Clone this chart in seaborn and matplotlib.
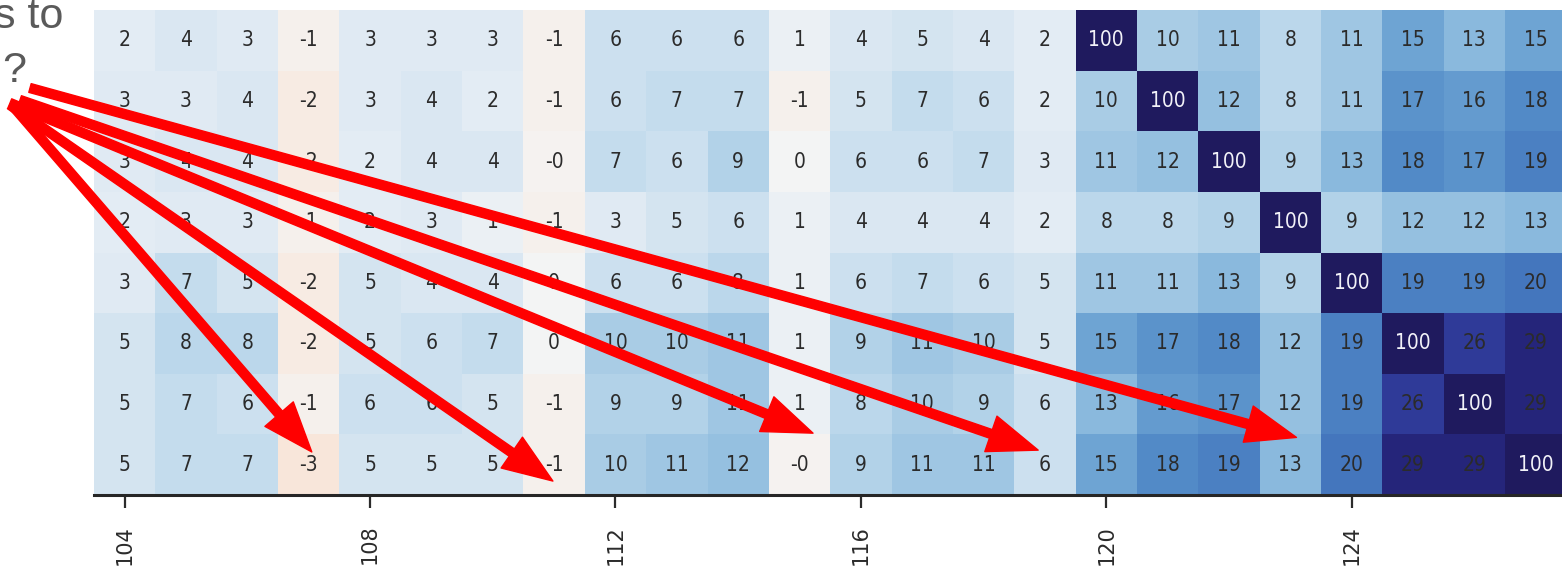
import numpy as np
import pandas as pd
import matplotlib
matplotlib.use("Agg")
import matplotlib.pyplot as plt
from matplotlib.colors import LinearSegmentedColormap
import seaborn as sns

# Correlation values (in %) for features 120-127 against features 104-127
row_labels = list(range(120, 128))
col_labels = list(range(104, 128))

r120 = [2, 4, 3, -1, 3, 3, 3, -1, 6, 6, 6, 1, 4, 5, 4, 2, 100, 10, 11, 8, 11, 15, 13, 15]
r121 = [3, 3, 4, -2, 3, 4, 2, -1, 6, 7, 7, -1, 5, 7, 6, 2, 10, 100, 12, 8, 11, 17, 16, 18]
r122 = [3, 4, 4, -2, 2, 4, 4, -0.3, 7, 6, 9, 0, 6, 6, 7, 3, 11, 12, 100, 9, 13, 18, 17, 19]
r123 = [2, 3, 3, -1, 2, 3, 1, -1, 3, 5, 6, 1, 4, 4, 4, 2, 8, 8, 9, 100, 9, 12, 12, 13]
r124 = [3, 7, 5, -2, 5, 4, 4, 0, 6, 6, 8, 1, 6, 7, 6, 5, 11, 11, 13, 9, 100, 19, 19, 20]
r125 = [5, 8, 8, -2, 5, 6, 7, 0, 10, 10, 11, 1, 9, 11, 10, 5, 15, 17, 18, 12, 19, 100, 26, 29]
r126 = [5, 7, 6, -1, 6, 6, 5, -1, 9, 9, 11, 1, 8, 10, 9, 6, 13, 16, 17, 12, 19, 26, 100, 29]
r127 = [5, 7, 7, -3, 5, 5, 5, -1, 10, 11, 12, -0.3, 9, 11, 11, 6, 15, 18, 19, 13, 20, 29, 29, 100]

# Cells pointed at by the arrows (bottom row, weakly correlated columns)
arrow_cols = [107, 111, 115, 119, 123]

corr = pd.DataFrame([r120, r121, r122, r123, r124, r125, r126, r127],
                    index=row_labels, columns=col_labels)

# Diverging colour scale: peach for negatives, blues up to navy for high values
vmin, vmax = -30, 100
anchors = [(-30, "#e08a6a"), (-3, "#f8e6da"), (0, "#f4f4f4"), (2, "#e4ecf4"),
           (5, "#d2e3f0"), (8, "#b9d6ea"), (11, "#9dc5e2"), (13, "#88b8dc"),
           (15, "#6ca3d2"), (18, "#5189c7"), (20, "#4476bd"), (26, "#2f3b99"),
           (29, "#25257a"), (45, "#201c63"), (100, "#1f1a5e")]
cmap = LinearSegmentedColormap.from_list(
    "corr", [((v - vmin) / (vmax - vmin), c) for v, c in anchors])

W, H, DPI = 1562, 571, 100
fig = plt.figure(figsize=(W / DPI, H / DPI), dpi=DPI)
ax = fig.add_axes([94 / W, (H - 495) / H, 24 * 61.35 / W, 485 / H])

sns.heatmap(corr, ax=ax, cmap=cmap, vmin=vmin, vmax=vmax, cbar=False,
            annot=True, fmt=".0f",
            annot_kws={"fontsize": 15, "fontstretch": "condensed"},
            xticklabels=4, yticklabels=False)

# Annotation colour: light on the diagonal, dark elsewhere
flat = corr.to_numpy().ravel()
for txt, v in zip(ax.texts, flat):
    txt.set_color("#f2f2f8" if v >= 50 else "#2b2b2b")

ax.spines["bottom"].set_visible(True)
ax.spines["bottom"].set_color("#262626")
ax.spines["bottom"].set_linewidth(2.2)
ax.tick_params(axis="x", length=9.5, width=1.6, pad=12, labelsize=15,
               colors="#2b2b2b", labelrotation=90)
ax.tick_params(axis="y", length=0)
ax.set_xlabel("")
ax.set_ylabel("")

# Question text (partially outside the canvas on the left)
fig.text(63 / W, (H - 28) / H, "s to", ha="right", va="baseline",
         fontsize=31, color="#5a5a5a", family="Liberation Sans")
fig.text(26 / W, (H - 82) / H, "?", ha="right", va="baseline",
         fontsize=31, color="#5a5a5a", family="Liberation Sans")

# Red arrows from the question to the highlighted cells
tip_offsets = [(0.55, 7.29), (0.48, 7.77), (0.72, 6.98), (0.39, 7.26), (0.60, 7.05)]
starts = [(12, H - 105), (10, H - 105), (10, H - 103), (20, H - 100), (30, H - 88)]
for col, (dx, y), (sx, sy) in zip(arrow_cols, tip_offsets, starts):
    x = col_labels.index(col) + dx
    ax.annotate("", xy=(x, y), xycoords="data",
                xytext=(sx, sy), textcoords="figure pixels",
                arrowprops=dict(facecolor="#ff0000", edgecolor="#ff0000",
                                width=6.5, headwidth=27, headlength=36, shrink=0),
                annotation_clip=False, zorder=10)

fig.savefig("out.png", dpi=DPI)
